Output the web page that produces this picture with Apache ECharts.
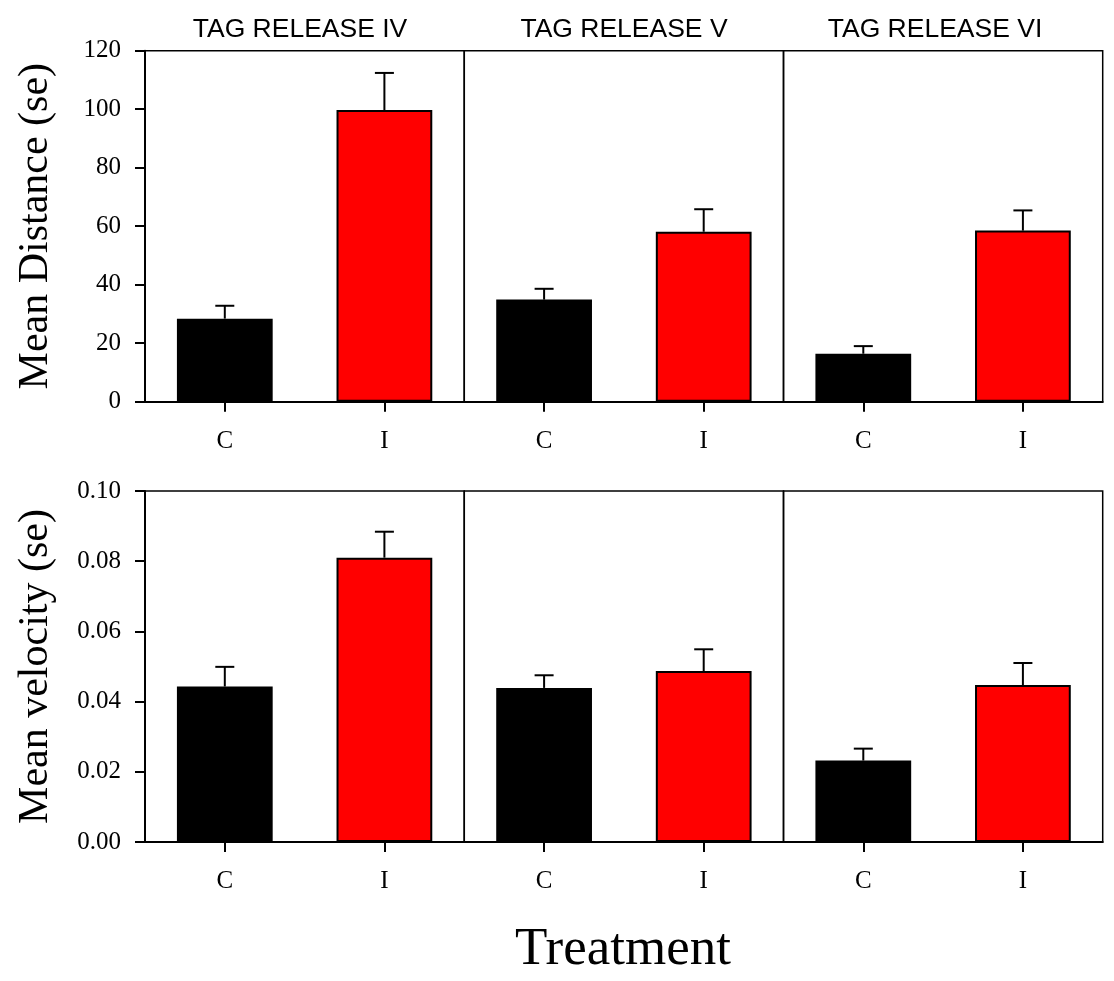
<!DOCTYPE html>
<html>
<head>
<meta charset="utf-8">
<script src="https://cdn.jsdelivr.net/npm/echarts@6/dist/echarts.min.js"></script>
<style>html,body{margin:0;padding:0;background:#fff}#c{width:1114px;height:981px}</style>
</head>
<body>
<div id="c"></div>
<script>
// ---- data ----
const groups = ['TAG RELEASE IV', 'TAG RELEASE V', 'TAG RELEASE VI'];
const treatments = ['C', 'I'];
const distMean = [[28.4, 99.7], [34.9, 58.1], [16.4, 58.5]];
const distSE   = [[4.4, 12.7], [3.7, 7.7], [2.6, 6.9]];
const velMean  = [[0.0443, 0.0810], [0.0439, 0.0487], [0.0232, 0.0447]];
const velSE    = [[0.0056, 0.0074], [0.0036, 0.0062], [0.0034, 0.0063]];
const distTicks = [0, 20, 40, 60, 80, 100, 120];
const velTicks  = [0, 0.02, 0.04, 0.06, 0.08, 0.10];
const yTitles = ['Mean Distance (se)', 'Mean velocity (se)'];
const xTitle = 'Treatment';

// ---- styles / layout ----
const barColors = ['#000000', '#ff0000'];
const SERIF = '"Liberation Serif", "Times New Roman", serif';
const SANS = '"Liberation Sans", Arial, sans-serif';
const panelLeft = [145, 464.3, 783.5];
const panelW = 319.2;
const rowTop = [50.7, 491];
const rowH = [351, 351];
const titleX = [300, 624, 935];

const chart = echarts.init(document.getElementById('c'), null, {renderer: 'canvas'});

const grids = [], xAxes = [], yAxes = [], series = [], graphics = [];
const rows = [
  {mean: distMean, se: distSE, ticks: distTicks, fmt: v => String(v)},
  {mean: velMean, se: velSE, ticks: velTicks, fmt: v => v.toFixed(2)}
];

rows.forEach((row, r) => {
  groups.forEach((g, c) => {
    const idx = grids.length;
    grids.push({
      left: panelLeft[c], top: rowTop[r], width: panelW, height: rowH[r],
      show: true, borderColor: '#000', borderWidth: 1.5, backgroundColor: 'transparent'
    });
    xAxes.push({
      type: 'category', gridIndex: idx, data: treatments,
      axisLine: {show: true, lineStyle: {color: '#000', width: 2}},
      axisTick: {show: true, alignWithLabel: true, length: 10, lineStyle: {color: '#000', width: 2}},
      axisLabel: {color: '#000', fontFamily: SERIF, fontSize: 25, margin: 27},
      splitLine: {show: false}
    });
    const tk = row.ticks;
    yAxes.push({
      type: 'value', gridIndex: idx,
      min: tk[0], max: tk[tk.length - 1], interval: tk[1] - tk[0],
      axisLine: {show: c === 0, lineStyle: {color: '#000', width: 2}},
      axisTick: {show: c === 0, length: 10, lineStyle: {color: '#000', width: 2}},
      axisLabel: {show: c === 0, color: '#000', fontFamily: SERIF, fontSize: 25, margin: 24,
                  formatter: v => row.fmt(v)},
      splitLine: {show: false}
    });
    series.push({
      type: 'bar', xAxisIndex: idx, yAxisIndex: idx, barWidth: '60%',
      data: row.mean[c].map((v, i) => ({
        value: v,
        itemStyle: {color: barColors[i], borderColor: '#000', borderWidth: 2}
      })),
      animation: false
    });
    series.push({
      type: 'custom', xAxisIndex: idx, yAxisIndex: idx, z: 3,
      data: row.mean[c].map((v, i) => [i, v, v + row.se[c][i]]),
      renderItem: (params, api) => {
        const b = api.coord([api.value(0), api.value(1)]);
        const t = api.coord([api.value(0), api.value(2)]);
        const st = {stroke: '#000', lineWidth: 2};
        return {type: 'group', children: [
          {type: 'line', shape: {x1: b[0], y1: b[1], x2: t[0], y2: t[1]}, style: st},
          {type: 'line', shape: {x1: t[0] - 9.5, y1: t[1], x2: t[0] + 9.5, y2: t[1]}, style: st}
        ]};
      },
      animation: false
    });
  });
});

groups.forEach((g, c) => {
  graphics.push({
    type: 'text', x: titleX[c], y: 30,
    style: {text: g, fill: '#000', font: '26.5px ' + SANS, textAlign: 'center', textVerticalAlign: 'middle'}
  });
});
yTitles.forEach((t, r) => {
  graphics.push({
    type: 'text', x: 36, y: rowTop[r] + rowH[r] / 2, rotation: Math.PI / 2,
    style: {text: t, fill: '#000', font: '42px ' + SERIF, textAlign: 'center', textVerticalAlign: 'middle'}
  });
});
graphics.push({
  type: 'text', x: 623, y: 950,
  style: {text: xTitle, fill: '#000', font: '53px ' + SERIF, textAlign: 'center', textVerticalAlign: 'middle'}
});

chart.setOption({
  animation: false,
  backgroundColor: '#fff',
  grid: grids, xAxis: xAxes, yAxis: yAxes, series: series,
  graphic: graphics
});
</script>
</body>
</html>
